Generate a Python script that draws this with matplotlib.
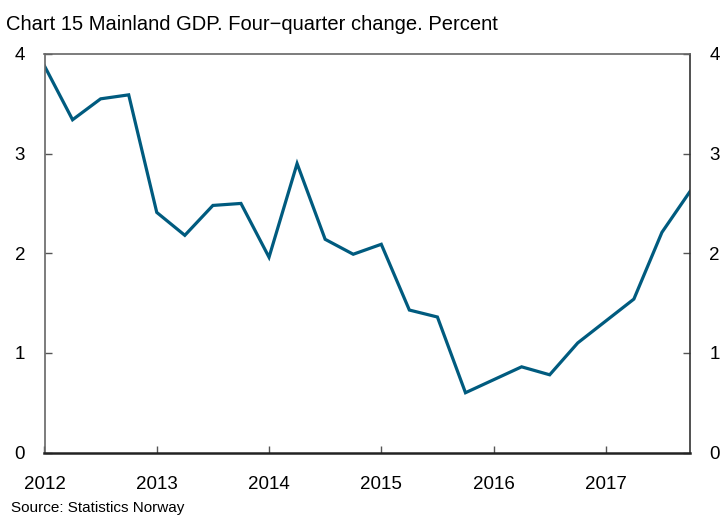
import matplotlib
matplotlib.use("Agg")
import matplotlib.pyplot as plt

plt.rcParams['font.family'] = ['Liberation Sans', 'DejaVu Sans']

quarters = [2012.0, 2012.25, 2012.5, 2012.75,
            2013.0, 2013.25, 2013.5, 2013.75,
            2014.0, 2014.25, 2014.5, 2014.75,
            2015.0, 2015.25, 2015.5, 2015.75,
            2016.0, 2016.25, 2016.5, 2016.75,
            2017.0, 2017.25, 2017.5, 2017.75]
gdp_change = [3.88, 3.34, 3.55, 3.59,
              2.41, 2.18, 2.48, 2.50,
              1.96, 2.90, 2.14, 1.99,
              2.09, 1.43, 1.36, 0.60,
              0.73, 0.86, 0.78, 1.10,
              1.32, 1.54, 2.21, 2.62]
year_ticks = [2012, 2013, 2014, 2015, 2016, 2017]
y_ticks = [0, 1, 2, 3, 4]


def main():
    fig = plt.figure(figsize=(7.2, 5.15), dpi=100)
    ax = fig.add_axes([44.5 / 720, 1 - 452.5 / 515,
                       (690 - 44.5) / 720, (452.5 - 54) / 515])
    ax.plot(quarters, gdp_change, color='#005b7f', linewidth=2.3,
            solid_joinstyle='miter')
    ax.set_xlim(2012, 2017.75)
    ax.set_ylim(0, 4)
    ax.set_xticks(year_ticks)
    ax.set_xticklabels([str(y) for y in year_ticks])
    ax.set_yticks(y_ticks)
    ax.tick_params(axis='both', direction='in', length=5, width=1,
                   color='#555555', labelsize=13.5)
    ax.tick_params(axis='y', right=True, labelright=True, pad=14)
    ax.tick_params(axis='x', pad=17)
    for sp in ax.spines.values():
        sp.set_color('#666666')
        sp.set_linewidth(1.2)
    ax.spines['right'].set_color('#333333')
    ax.spines['bottom'].set_color('#222222')
    ax.spines['bottom'].set_linewidth(1.8)

    fig.text(6 / 720, 1 - 25 / 515,
             "Chart 15 Mainland GDP. Four\u2212quarter change. Percent",
             fontsize=14.5, va='center', ha='left')
    fig.text(11 / 720, 1 - 508 / 515, "Source: Statistics Norway",
             fontsize=11, va='center', ha='left')

    fig.savefig("out.png", dpi=100)


if __name__ == "__main__":
    main()
